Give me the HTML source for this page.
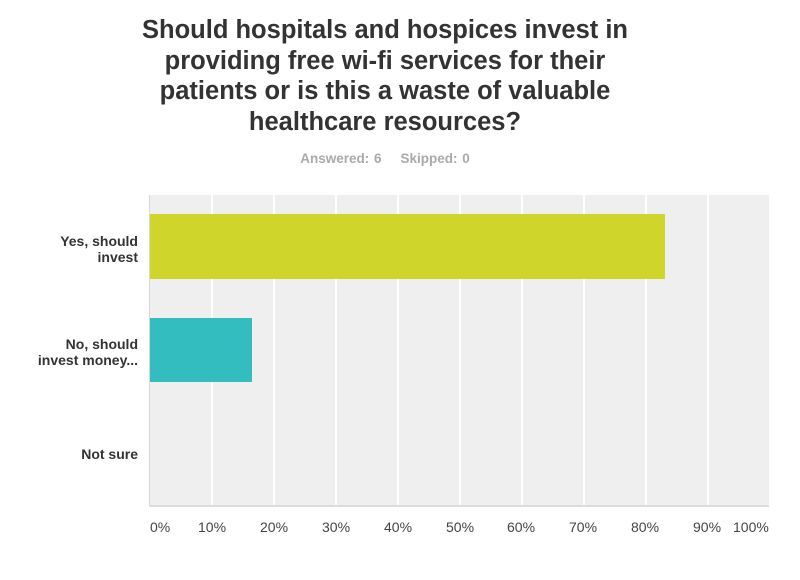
<!DOCTYPE html>
<html><head><style>
body{margin:0;background:#fff;width:800px;height:580px;position:relative;font-family:"Liberation Sans",Arial,sans-serif;overflow:hidden}
.t{position:absolute;left:0;width:770px;top:15px;text-align:center;font-weight:bold;font-size:25.5px;line-height:30.5px;color:#333}
.s{position:absolute;left:0;width:770px;top:151px;text-align:center;font-weight:bold;font-size:13.5px;color:#aaa;word-spacing:1px}
.plot{position:absolute;left:149px;top:195px;width:619px;height:310px;background:#efefef;border-left:1px solid #d8d8d8;border-bottom:2px solid #dcdcdc}
.g{position:absolute;top:0;height:310px;width:1.5px;background:#fff}
.bar{position:absolute;left:0}
.lab{position:absolute;right:662px;text-align:right;font-weight:bold;font-size:14px;line-height:16px;color:#333}
.tk{position:absolute;top:519px;font-size:14px;color:#444}
</style></head><body>
<div class="t">Should hospitals and hospices invest in<br>providing free wi-fi services for their<br>patients or is this a waste of valuable<br>healthcare resources?</div>
<div class="s">Answered: 6&nbsp;&nbsp;&nbsp;&nbsp;Skipped: 0</div>
<div class="plot">
<div class="g" style="left:61px"></div><div class="g" style="left:123px"></div><div class="g" style="left:185px"></div><div class="g" style="left:247px"></div><div class="g" style="left:309px"></div><div class="g" style="left:371px"></div><div class="g" style="left:433px"></div><div class="g" style="left:495px"></div><div class="g" style="left:557px"></div>
<div class="bar" style="top:19px;height:65px;width:515px;background:#cfd52a"></div>
<div class="bar" style="top:123px;height:64px;width:102px;background:#33bdbf"></div>
</div>
<div class="lab" style="top:233px">Yes, should<br>invest</div>
<div class="lab" style="top:336px">No, should<br>invest money...</div>
<div class="lab" style="top:446px">Not sure</div>
<div class="tk" style="left:150px">0%</div>
<div class="tk" style="left:198px">10%</div>
<div class="tk" style="left:260px">20%</div>
<div class="tk" style="left:322px">30%</div>
<div class="tk" style="left:384px">40%</div>
<div class="tk" style="left:446px">50%</div>
<div class="tk" style="left:507px">60%</div>
<div class="tk" style="left:569px">70%</div>
<div class="tk" style="left:631px">80%</div>
<div class="tk" style="left:693px">90%</div>
<div class="tk" style="left:733px">100%</div>
</body></html>
